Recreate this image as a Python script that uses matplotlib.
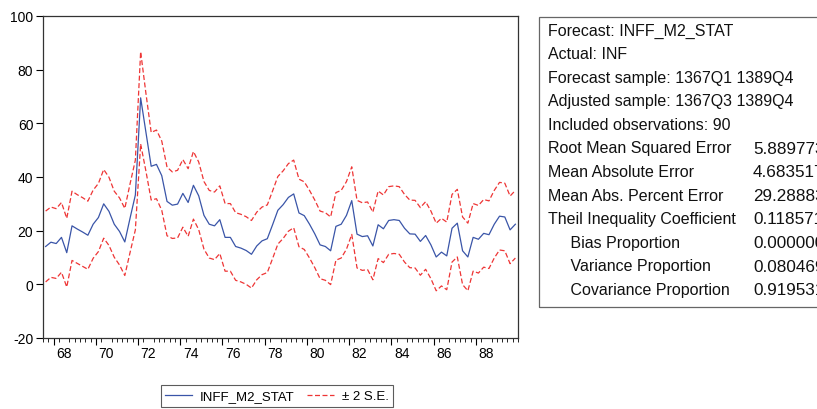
import matplotlib
matplotlib.use('Agg')
import matplotlib.pyplot as plt
from matplotlib.lines import Line2D
from matplotlib.patches import Rectangle
import numpy as np

plt.rcParams['font.family'] = ['Liberation Sans', 'DejaVu Sans']
plt.rcParams['axes.unicode_minus'] = False

# forecast INFF_M2_STAT, 1367Q3 .. 1389Q4 (90 quarters)
inff = [14.1, 15.7, 15.2, 17.5, 11.8, 21.8, 20.6, 19.5, 18.3, 22.4,
        24.9, 30.0, 27.2, 22.4, 19.7, 15.8, 24.7, 33.3, 69.5, 56.7,
        44.0, 44.7, 40.5, 30.9, 29.5, 29.9, 33.9, 30.5, 36.9, 33.0,
        25.7, 22.4, 21.8, 24.1, 17.5, 17.5, 14.1, 13.5, 12.6, 11.2,
        14.3, 16.2, 17.0, 22.2, 27.6, 29.7, 32.4, 33.7, 26.6, 25.6,
        22.4, 18.8, 14.7, 14.1, 12.5, 21.6, 22.4, 25.7, 31.2, 18.7,
        17.8, 18.1, 14.3, 22.2, 20.7, 23.8, 24.1, 23.8, 20.9, 18.8,
        18.7, 16.0, 18.2, 14.7, 10.2, 12.0, 10.6, 20.9, 22.8, 12.5,
        10.2, 17.5, 16.8, 19.0, 18.5, 22.4, 25.4, 25.1, 20.3, 22.4]

# two standard errors around the forecast
se2 = [13.2, 13.1, 13.0, 13.0, 12.8, 12.9, 12.8, 12.8, 12.7, 12.7,
       12.7, 12.8, 12.7, 12.3, 12.5, 12.5, 12.8, 13.0, 17.2, 14.5,
       12.6, 12.8, 12.9, 12.8, 12.4, 12.6, 12.6, 12.6, 12.6, 12.6,
       12.6, 12.6, 12.6, 12.6, 12.6, 12.6, 12.6, 12.6, 12.6, 12.6,
       12.6, 12.6, 12.6, 12.6, 12.6, 12.6, 12.6, 12.6, 12.6, 12.6,
       12.6, 12.6, 12.6, 12.6, 12.6, 12.6, 12.6, 12.6, 12.6, 12.6,
       12.6, 12.6, 12.6, 12.6, 12.6, 12.6, 12.6, 12.6, 12.6, 12.6,
       12.6, 12.6, 12.6, 12.6, 12.6, 12.6, 12.6, 12.6, 12.6, 12.6,
       12.6, 12.6, 12.6, 12.6, 12.6, 12.6, 12.6, 12.6, 12.6, 12.6]

year_labels = ['68', '70', '72', '74', '76', '78', '80', '82', '84', '86', '88']

stat_names = ['Forecast: INFF_M2_STAT', 'Actual: INF',
              'Forecast sample: 1367Q1 1389Q4', 'Adjusted sample: 1367Q3 1389Q4',
              'Included observations: 90',
              'Root Mean Squared Error', 'Mean Absolute Error',
              'Mean Abs. Percent Error', 'Theil Inequality Coefficient',
              '     Bias Proportion', '     Variance Proportion',
              '     Covariance Proportion']
stat_values = ['', '', '', '', '', '5.889773', '4.683517', '29.28883',
               '0.118571', '0.000000', '0.080469', '0.919531']

W, H = 817, 410
fig = plt.figure(figsize=(W / 100, H / 100), dpi=100)
ax = fig.add_axes([43 / W, 1 - 339 / H, (518 - 43) / W, (339 - 17) / H])

x = np.arange(len(inff))
f = np.array(inff)
s = np.array(se2)
blue = '#3a55a8'
red = '#ee3535'
ax.plot(x, f, color=blue, lw=0.9)
ax.plot(x, f + s, color=red, lw=0.9, ls=(0, (4, 2)))
ax.plot(x, f - s, color=red, lw=0.9, ls=(0, (4, 2)))

ax.set_xlim(-0.5, 89.5)
ax.set_ylim(-20, 100)
ax.set_yticks(range(-20, 101, 20))
ax.tick_params(axis='y', direction='out', length=5, width=0.8, labelsize=10, pad=2)

# labels centred on each even year, ticks between quarters
label_pos = [3.5 + 8 * k for k in range(len(year_labels))]
ax.set_xticks(label_pos, year_labels)
ax.set_xticks(np.arange(-0.5, 90, 1), minor=True)
ax.tick_params(axis='x', which='major', length=0, labelsize=10, pad=6)
ax.tick_params(axis='x', which='minor', direction='out', length=3, width=0.6)
sec = ax.secondary_xaxis('bottom')
sec.set_xticks([1.5 + 8 * k for k in range(11)])
sec.tick_params(axis='x', direction='out', length=5, width=0.8, labelbottom=False)
sec.spines['bottom'].set_visible(False)

for sp in ax.spines.values():
    sp.set_linewidth(0.9)
    sp.set_color('#333333')

handles = [Line2D([], [], color=blue, lw=0.9),
           Line2D([], [], color=red, lw=0.9, ls=(0, (4, 2)))]
leg = fig.legend(handles, ['INFF_M2_STAT', '\u00b1 2 S.E.'], loc='center',
                 bbox_to_anchor=(277 / W, 1 - 397 / H), ncol=2, fontsize=9.5,
                 frameon=True, fancybox=False, handlelength=2.0,
                 handletextpad=0.6, columnspacing=1.0, borderpad=0.35)
leg.get_frame().set_edgecolor('#333333')
leg.get_frame().set_linewidth(0.8)

# statistics box on the right
fig.patches.append(Rectangle((539 / W, 1 - 308 / H), 300 / W, 290 / H,
                             transform=fig.transFigure, fill=False,
                             edgecolor='#666666', lw=0.9))
for k, (name, val) in enumerate(zip(stat_names, stat_values)):
    yy = 1 - (31 + k * 23.6) / H
    fig.text(548 / W, yy, name, fontsize=11.5, va='center', color='#111111')
    if val:
        fig.text(753 / W, yy, val, fontsize=12.3, va='center', color='#111111')

fig.savefig('out.png', dpi=100)
